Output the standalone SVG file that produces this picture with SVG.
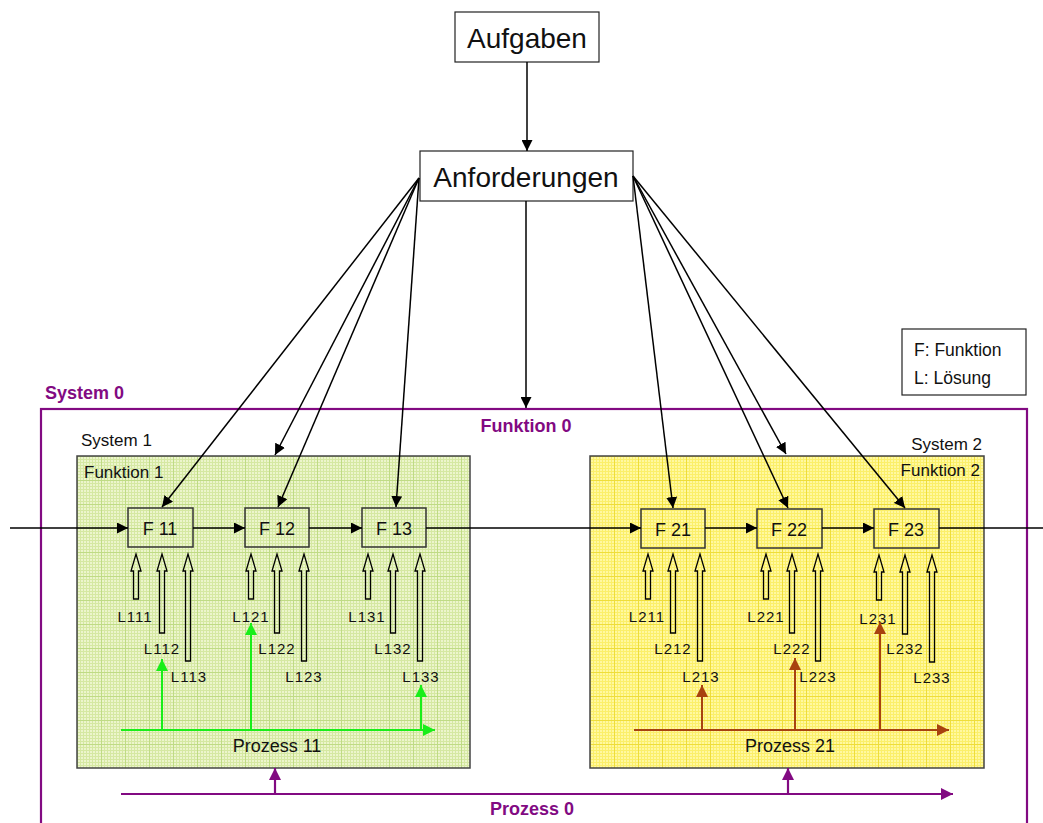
<svg xmlns="http://www.w3.org/2000/svg" width="1043" height="823" viewBox="0 0 1043 823">
  <defs>
    <style>
      text { font-family: "Liberation Sans", Arial, sans-serif; fill: #111; }
      .big { font-size: 28px; }
      .f { font-size: 18px; text-anchor: middle; }
      .l { font-size: 15px; text-anchor: middle; letter-spacing: 1px; }
      .lbl { font-size: 17px; }
      .leg { font-size: 17.5px; }
      .pur { fill: #820a82; font-weight: bold; font-size: 18px; }
      .box { fill: #fff; stroke: #222; stroke-width: 1.2; }
      .fbox { fill: none; stroke: #333; stroke-width: 1.5; }
      .conn { stroke: #000; stroke-width: 1.5; fill: none; }
      .hollow { fill: none; stroke: #000; stroke-width: 1.3; }
      .grn { stroke: #19ee19; stroke-width: 2; fill: none; }
      .brn { stroke: #a8420f; stroke-width: 2; fill: none; }
      .prp { stroke: #820a82; stroke-width: 2.2; fill: none; }
    </style>
    <marker id="ah" viewBox="0 0 10 10" refX="10" refY="5" markerWidth="11" markerHeight="11" markerUnits="userSpaceOnUse" orient="auto">
      <path d="M0,0 L10,5 L0,10 z" fill="#000"/>
    </marker>
    <marker id="ahG" viewBox="0 0 10 10" refX="10" refY="5" markerWidth="12" markerHeight="12" markerUnits="userSpaceOnUse" orient="auto">
      <path d="M0,0 L10,5 L0,10 z" fill="#19ee19"/>
    </marker>
    <marker id="ahB" viewBox="0 0 10 10" refX="10" refY="5" markerWidth="12" markerHeight="12" markerUnits="userSpaceOnUse" orient="auto">
      <path d="M0,0 L10,5 L0,10 z" fill="#a8420f"/>
    </marker>
    <marker id="ahP" viewBox="0 0 10 10" refX="10" refY="5" markerWidth="12" markerHeight="12" markerUnits="userSpaceOnUse" orient="auto">
      <path d="M0,0 L10,5 L0,10 z" fill="#820a82"/>
    </marker>
    <!-- fine grid textures for the two subsystem areas -->
    <pattern id="gridG" width="24" height="24" patternUnits="userSpaceOnUse" x="77" y="456">
      <rect width="24" height="24" fill="#ecf5cc"/>
      <path d="M0,0.5H24M0,3.5H24M0,6.5H24M0,9.5H24M0,12.5H24M0,15.5H24M0,18.5H24M0,21.5H24M0.5,0V24M3.5,0V24M6.5,0V24M9.5,0V24M12.5,0V24M15.5,0V24M18.5,0V24M21.5,0V24" stroke="#d5e8a2" stroke-width="1"/>
      <path d="M0,0.5H24M0.5,0V24" stroke="#bfdb85" stroke-width="1"/>
    </pattern>
    <pattern id="gridY" width="24" height="24" patternUnits="userSpaceOnUse" x="590" y="456">
      <rect width="24" height="24" fill="#fff8a0"/>
      <path d="M0,0.5H24M0,3.5H24M0,6.5H24M0,9.5H24M0,12.5H24M0,15.5H24M0,18.5H24M0,21.5H24M0.5,0V24M3.5,0V24M6.5,0V24M9.5,0V24M12.5,0V24M15.5,0V24M18.5,0V24M21.5,0V24" stroke="#fbef6a" stroke-width="1"/>
      <path d="M0,0.5H24M0.5,0V24" stroke="#eedd3a" stroke-width="1"/>
    </pattern>
  </defs>

  <rect width="1043" height="823" fill="#fff"/>

  <!-- System 0 frame -->
  <g id="system0">
    <rect x="41" y="409" width="986" height="430" fill="none" stroke="#820a82" stroke-width="2.2"/>
    <text x="45" y="399" class="pur">System 0</text>
    <text x="526" y="432" class="pur" text-anchor="middle">Funktion 0</text>
  </g>

  <!-- System 1 -->
  <g id="system1">
    <rect x="77" y="456" width="393" height="312" fill="url(#gridG)" stroke="#444" stroke-width="1.5"/>
    <text x="81" y="446" class="lbl">System 1</text>
    <text x="84" y="478" class="lbl">Funktion 1</text>
    <text x="277" y="752" class="f">Prozess 11</text>
  </g>

  <!-- System 2 -->
  <g id="system2">
    <rect x="590" y="456" width="394" height="312" fill="url(#gridY)" stroke="#444" stroke-width="1.5"/>
    <text x="982" y="450" class="lbl" text-anchor="end">System 2</text>
    <text x="980" y="476" class="lbl" text-anchor="end">Funktion 2</text>
    <text x="790" y="752" class="f">Prozess 21</text>
  </g>

  <!-- legend -->
  <g id="legend">
    <rect x="902" y="329" width="124" height="66" class="box"/>
    <text x="914" y="356" class="leg">F: Funktion</text>
    <text x="914" y="384" class="leg">L: Lösung</text>
  </g>

  <g id="aufgaben">
    <rect x="455" y="12" width="144" height="50" class="box"/>
    <text x="527" y="48" class="big" text-anchor="middle">Aufgaben</text>
  </g>
  <g id="anforderungen">
    <rect x="420" y="151" width="213" height="50" class="box"/>
    <text x="526" y="187" class="big" text-anchor="middle">Anforderungen</text>
  </g>

  <!-- function blocks -->
  <g id="F11"><rect x="128" y="508" width="65" height="39" class="fbox"/><text x="160" y="535" class="f">F 11</text></g>
  <g id="F12"><rect x="245" y="508" width="64" height="39" class="fbox"/><text x="277" y="535" class="f">F 12</text></g>
  <g id="F13"><rect x="362" y="508" width="64" height="39" class="fbox"/><text x="394" y="535" class="f">F 13</text></g>
  <g id="F21"><rect x="641" y="509" width="64" height="39" class="fbox"/><text x="673" y="536" class="f">F 21</text></g>
  <g id="F22"><rect x="757" y="509" width="65" height="39" class="fbox"/><text x="789" y="536" class="f">F 22</text></g>
  <g id="F23"><rect x="874" y="509" width="65" height="39" class="fbox"/><text x="906" y="536" class="f">F 23</text></g>

  <!-- solution inputs (hollow arrows) -->
  <g id="loesungen">
    <g class="hollow">
      <polygon points="133.5,599 133.5,571 131,571 136,554 141,571 138.5,571 138.5,599"/>
      <polygon points="159.5,633 159.5,571 157,571 162,554 167,571 164.5,571 164.5,633"/>
      <polygon points="185.5,661 185.5,571 183,571 188,554 193,571 190.5,571 190.5,661"/>
      <polygon points="248.5,599 248.5,571 246,571 251,554 256,571 253.5,571 253.5,599"/>
      <polygon points="274.5,633 274.5,571 272,571 277,554 282,571 279.5,571 279.5,633"/>
      <polygon points="301.5,661 301.5,571 299,571 304,554 309,571 306.5,571 306.5,661"/>
      <polygon points="365.5,599 365.5,571 363,571 368,554 373,571 370.5,571 370.5,599"/>
      <polygon points="390.5,633 390.5,571 388,571 393,554 398,571 395.5,571 395.5,633"/>
      <polygon points="417.5,661 417.5,571 415,571 420,554 425,571 422.5,571 422.5,661"/>
      <polygon points="645.5,599 645.5,571 643,571 648,554 653,571 650.5,571 650.5,599"/>
      <polygon points="670.5,633 670.5,571 668,571 673,554 678,571 675.5,571 675.5,633"/>
      <polygon points="697.5,661 697.5,571 695,571 700,554 705,571 702.5,571 702.5,661"/>
      <polygon points="763.5,599 763.5,571 761,571 766,554 771,571 768.5,571 768.5,599"/>
      <polygon points="789.5,633 789.5,571 787,571 792,554 797,571 794.5,571 794.5,633"/>
      <polygon points="815.5,661 815.5,571 813,571 818,554 823,571 820.5,571 820.5,661"/>
      <polygon points="876.5,600 876.5,572 874,572 879,555 884,572 881.5,572 881.5,600"/>
      <polygon points="902.5,634 902.5,572 900,572 905,555 910,572 907.5,572 907.5,634"/>
      <polygon points="929.5,662 929.5,572 927,572 932,555 937,572 934.5,572 934.5,662"/>
    </g>
    <text x="135" y="622" class="l">L111</text>
    <text x="162" y="654" class="l">L112</text>
    <text x="189" y="682" class="l">L113</text>
    <text x="251" y="622" class="l">L121</text>
    <text x="277" y="654" class="l">L122</text>
    <text x="304" y="682" class="l">L123</text>
    <text x="367" y="622" class="l">L131</text>
    <text x="393" y="654" class="l">L132</text>
    <text x="421" y="682" class="l">L133</text>
    <text x="647" y="622" class="l">L211</text>
    <text x="673" y="654" class="l">L212</text>
    <text x="701" y="682" class="l">L213</text>
    <text x="766" y="622" class="l">L221</text>
    <text x="792" y="654" class="l">L222</text>
    <text x="818" y="682" class="l">L223</text>
    <text x="878" y="624" class="l">L231</text>
    <text x="905" y="654" class="l">L232</text>
    <text x="932" y="683" class="l">L233</text>
  </g>

  <!-- connectors -->
  <g id="connectors">
    <path class="conn" d="M527,62 V151" marker-end="url(#ah)"/>
    <path class="conn" d="M526,201 V408" marker-end="url(#ah)"/>
    <!-- left fan -->
    <path class="conn" d="M419,178 L162,507" marker-end="url(#ah)"/>
    <path class="conn" d="M419,178 L275,455" marker-end="url(#ah)"/>
    <path class="conn" d="M419,178 L278,507" marker-end="url(#ah)"/>
    <path class="conn" d="M419,178 L396,507" marker-end="url(#ah)"/>
    <!-- right fan -->
    <path class="conn" d="M633,176 L673,508" marker-end="url(#ah)"/>
    <path class="conn" d="M633,176 L786,454" marker-end="url(#ah)"/>
    <path class="conn" d="M633,176 L788,508" marker-end="url(#ah)"/>
    <path class="conn" d="M633,176 L905,508" marker-end="url(#ah)"/>
    <!-- function chain -->
    <path class="conn" d="M10,528 H128" marker-end="url(#ah)"/>
    <path class="conn" d="M193,528 H245" marker-end="url(#ah)"/>
    <path class="conn" d="M309,528 H362" marker-end="url(#ah)"/>
    <path class="conn" d="M426,528 H641" marker-end="url(#ah)"/>
    <path class="conn" d="M705,528 H757" marker-end="url(#ah)"/>
    <path class="conn" d="M822,528 H874" marker-end="url(#ah)"/>
    <path class="conn" d="M939,528 H1043"/>
    <!-- Prozess 11 -->
    <path class="grn" d="M121,730 H435" marker-end="url(#ahG)"/>
    <path class="grn" d="M162,730 V659" marker-end="url(#ahG)"/>
    <path class="grn" d="M251,730 V623" marker-end="url(#ahG)"/>
    <path class="grn" d="M421,730 V685" marker-end="url(#ahG)"/>
    <!-- Prozess 21 -->
    <path class="brn" d="M634,730 H949" marker-end="url(#ahB)"/>
    <path class="brn" d="M702,730 V685" marker-end="url(#ahB)"/>
    <path class="brn" d="M795,730 V658" marker-end="url(#ahB)"/>
    <path class="brn" d="M880,730 V622" marker-end="url(#ahB)"/>
    <!-- Prozess 0 -->
    <path class="prp" d="M121,794 H953" marker-end="url(#ahP)"/>
    <path class="prp" d="M275,794 V768" marker-end="url(#ahP)"/>
    <path class="prp" d="M788,794 V768" marker-end="url(#ahP)"/>
  </g>
  <text x="532" y="815" class="pur" text-anchor="middle">Prozess 0</text>
</svg>
